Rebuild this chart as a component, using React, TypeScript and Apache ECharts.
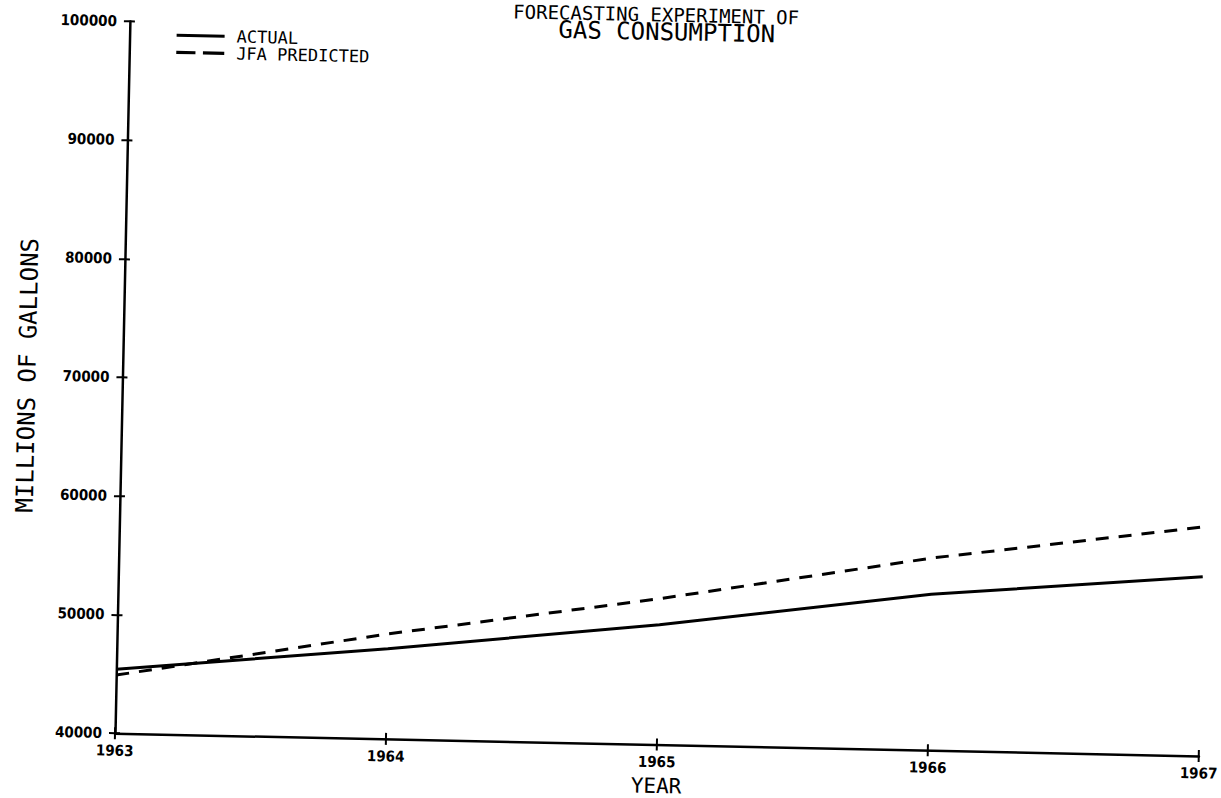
import { useEffect, useRef } from "react";
import * as echarts from "echarts";

// ---- data ----
const years = ["1963", "1964", "1965", "1966", "1967"];
const actual = [45400, 47600, 50100, 53150, 55100];
const predicted = [44900, 48850, 52300, 56200, 59300];
const seriesNames = ["ACTUAL", "JFA PREDICTED"];
const titleLines = ["FORECASTING EXPERIMENT OF", "GAS CONSUMPTION"];
const yAxisName = "MILLIONS OF GALLONS";
const xAxisName = "YEAR";
const yMin = 40000;
const yMax = 100000;
const yStep = 10000;

const mono = "'DejaVu Sans Mono', 'Liberation Mono', monospace";
const tickFont = "'DejaVu Sans Condensed', 'DejaVu Sans', sans-serif";

// the drawing surface extends this many px above the page top
const SHIFT = 40;

export default function App() {
  const ref = useRef<HTMLDivElement>(null);

  useEffect(() => {
    if (!ref.current) return;
    const chart = echarts.init(ref.current, undefined, { renderer: "svg" });
    const tickLine = { color: "#000", width: 2 };
    const labelStyle = {
      fontFamily: tickFont,
      fontWeight: "bold" as const,
      fontSize: 15,
      color: "#000",
    };
    chart.setOption({
      animation: false,
      backgroundColor: "#fff",
      grid: { left: 105, top: 21 + SHIFT, width: 1097, height: 712, containLabel: false },
      legend: {
        left: 162,
        top: 25.5 + SHIFT,
        padding: 0,
        orient: "vertical",
        itemWidth: 48,
        itemHeight: 11,
        itemGap: 0,
        data: [
          { name: seriesNames[0], icon: "path://M0,0h48v3h-48z" },
          { name: seriesNames[1], icon: "path://M0,0h18v3h-18z M25,0h20v3h-20z" },
        ],
        itemStyle: { color: "#000" },
        textStyle: {
          fontFamily: mono,
          fontSize: 17,
          color: "#000",
          padding: [0, 0, 0, 7],
        },
      },
      graphic: [
        {
          type: "text",
          x: 641,
          y: 3 + SHIFT,
          style: {
            text: titleLines[0],
            fontFamily: mono,
            fontSize: 19,
            fill: "#000",
            align: "center",
            verticalAlign: "middle",
          },
        },
        {
          type: "text",
          x: 652,
          y: 20.5 + SHIFT,
          style: {
            text: titleLines[1],
            fontFamily: mono,
            fontSize: 24,
            fill: "#000",
            align: "center",
            verticalAlign: "middle",
          },
        },
      ],
      xAxis: [
        {
          type: "category",
          data: years,
          boundaryGap: false,
          position: "bottom",
          axisLine: { lineStyle: { color: "#000", width: 2.5 } },
          axisTick: { show: true, length: 6, interval: 0, lineStyle: tickLine },
          axisLabel: { ...labelStyle, margin: 10, interval: 0 },
          splitLine: { show: false },
          name: xAxisName,
          nameLocation: "middle",
          nameGap: 31,
          nameTextStyle: { fontFamily: mono, fontSize: 21, color: "#000" },
        },
        {
          type: "category",
          data: years,
          boundaryGap: false,
          position: "bottom",
          axisLine: { show: false },
          axisTick: { show: true, inside: true, length: 6, interval: 0, lineStyle: tickLine },
          axisLabel: { show: false },
          splitLine: { show: false },
        },
      ],
      yAxis: [
        {
          type: "value",
          min: yMin,
          max: yMax,
          interval: yStep,
          position: "left",
          axisLine: { show: true, lineStyle: { color: "#000", width: 2.5 } },
          axisTick: { show: true, length: 6, lineStyle: tickLine },
          axisLabel: { ...labelStyle, margin: 13, formatter: (v: number) => String(v) },
          splitLine: { show: false },
          name: yAxisName,
          nameLocation: "middle",
          nameGap: 83,
          nameTextStyle: { fontFamily: mono, fontSize: 24, color: "#000" },
        },
        {
          type: "value",
          min: yMin,
          max: yMax,
          interval: yStep,
          position: "left",
          axisLine: { show: false },
          axisTick: { show: true, inside: true, length: 5, lineStyle: tickLine },
          axisLabel: { show: false },
          splitLine: { show: false },
        },
      ],
      series: [
        {
          name: seriesNames[0],
          type: "line",
          data: actual,
          symbol: "none",
          lineStyle: { color: "#000", width: 3 },
          itemStyle: { color: "#000" },
        },
        {
          name: seriesNames[1],
          type: "line",
          data: predicted,
          symbol: "none",
          lineStyle: { color: "#000", width: 3, type: [13, 10] },
          itemStyle: { color: "#000" },
        },
      ],
    });
    return () => chart.dispose();
  }, []);

  return (
    <div
      style={{
        position: "fixed",
        left: 0,
        top: 0,
        width: 1221,
        height: 798,
        overflow: "hidden",
        background: "#fff",
      }}
    >
      <div
        ref={ref}
        style={{
          position: "absolute",
          left: 0,
          top: -SHIFT,
          width: 1221,
          height: 798 + SHIFT,
          transform: "rotate(1.2deg)",
          transformOrigin: `105px ${733 + SHIFT}px`,
        }}
      />
    </div>
  );
}
